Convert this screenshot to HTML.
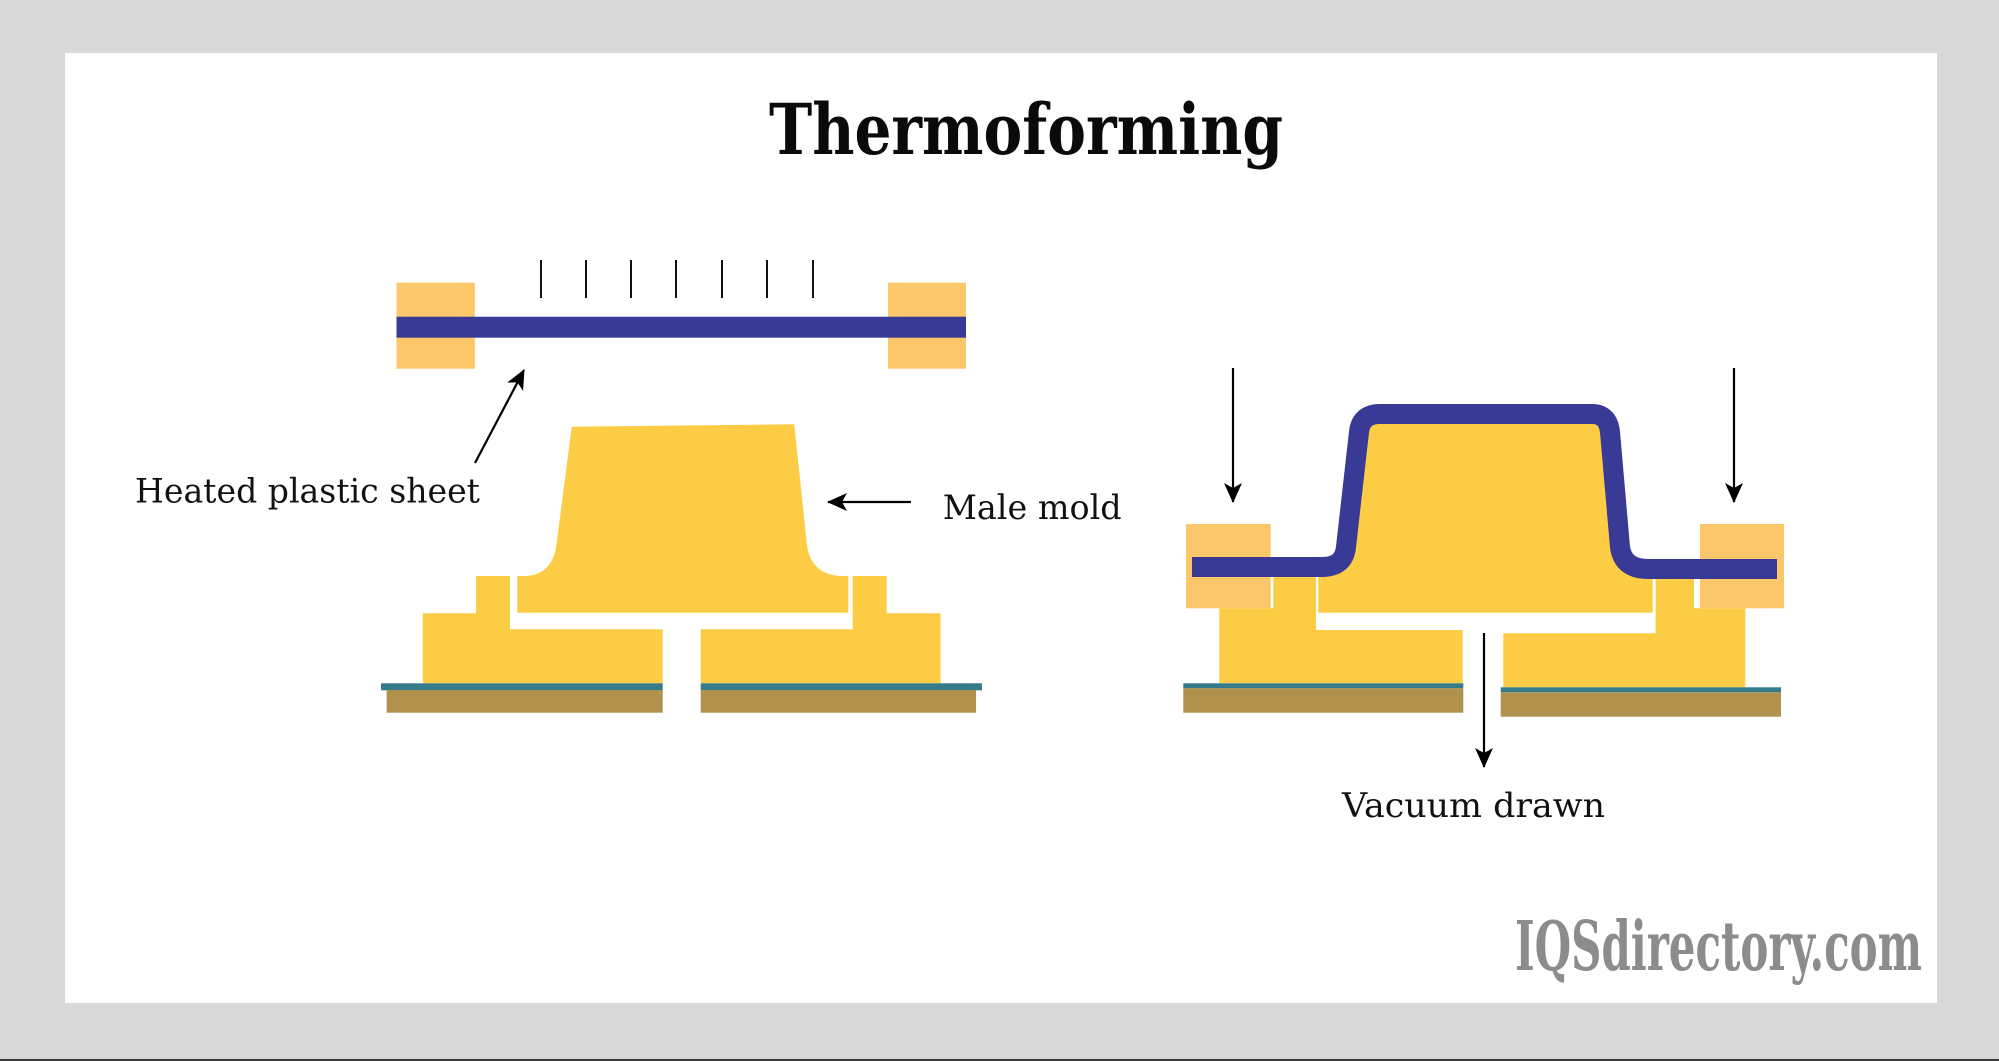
<!DOCTYPE html>
<html>
<head>
<meta charset="utf-8">
<style>
  html, body { margin: 0; padding: 0; background: #d9d9d9; }
  svg { display: block; }
</style>
</head>
<body>
<svg width="1999" height="1061" viewBox="0 0 1999 1061" xmlns="http://www.w3.org/2000/svg">
  <defs>
    <marker id="ah" viewBox="0 0 20 18" refX="19" refY="9" markerWidth="20" markerHeight="18" markerUnits="userSpaceOnUse" orient="auto">
      <path d="M0,0 L20,9 L0,18 L5,9 Z" fill="#000"/>
    </marker>
  </defs>
  <!-- background frame -->
  <rect x="0" y="0" width="1999" height="1061" fill="#d9d9d9"/>
  <rect x="65" y="53" width="1872" height="950" fill="#ffffff"/>
  <rect x="0" y="1059" width="1999" height="2" fill="#3a3a3a"/>

  <!-- Title -->
  <text x="769" y="154" font-family="DejaVu Serif, Liberation Serif, serif" font-weight="bold" font-size="70" textLength="514" lengthAdjust="spacingAndGlyphs" fill="#0a0a0a">Thermoforming</text>

  <!-- ============ LEFT DIAGRAM ============ -->
  <g stroke="#111" stroke-width="2">
    <line x1="541" y1="260" x2="541" y2="298"/>
    <line x1="586" y1="260" x2="586" y2="298"/>
    <line x1="631" y1="260" x2="631" y2="298"/>
    <line x1="676" y1="260" x2="676" y2="298"/>
    <line x1="722" y1="260" x2="722" y2="298"/>
    <line x1="767" y1="260" x2="767" y2="298"/>
    <line x1="813" y1="260" x2="813" y2="298"/>
  </g>
  <rect x="396.5" y="282.7" width="78.3" height="86" fill="#fcc76a"/>
  <rect x="888" y="282.7" width="78" height="86" fill="#fcc76a"/>
  <rect x="396.5" y="316.7" width="569.5" height="21" fill="#383a96"/>

  <line x1="475" y1="463" x2="524" y2="370" stroke="#000" stroke-width="2.2" marker-end="url(#ah)"/>
  <text x="135" y="502.7" font-family="DejaVu Serif, Liberation Serif, serif" font-size="34" textLength="345" lengthAdjust="spacingAndGlyphs" fill="#111">Heated plastic sheet</text>

  <path d="M571.7,426.7 L794.3,424.3 L806.7,543 Q810,574 840,576 L848.3,576 L848.3,612.7 L517.3,612.7 L517.3,576 L526.7,576 Q553,574 556.7,543 Z" fill="#fccd44"/>
  <path d="M476,576 L510,576 L510,629.3 L662.7,629.3 L662.7,683.3 L422.7,683.3 L422.7,613.3 L476,613.3 Z" fill="#fccd44"/>
  <path d="M852.7,576 L886.7,576 L886.7,613.3 L940.6,613.3 L940.6,683.3 L700.7,683.3 L700.7,629.3 L852.7,629.3 Z" fill="#fccd44"/>
  <rect x="381" y="683.3" width="281.7" height="7" fill="#367b8c"/>
  <rect x="386.6" y="690" width="276.1" height="22.7" fill="#b0924e"/>
  <rect x="700.7" y="683.3" width="281.3" height="7" fill="#367b8c"/>
  <rect x="700.7" y="690" width="275.3" height="22.7" fill="#b0924e"/>

  <line x1="911" y1="502" x2="828" y2="502" stroke="#000" stroke-width="2.2" marker-end="url(#ah)"/>
  <text x="942.7" y="519" font-family="DejaVu Serif, Liberation Serif, serif" font-size="34" textLength="179" lengthAdjust="spacingAndGlyphs" fill="#111">Male mold</text>

  <!-- ============ RIGHT DIAGRAM ============ -->
  <line x1="1233" y1="368" x2="1233" y2="502" stroke="#000" stroke-width="2.2" marker-end="url(#ah)"/>
  <line x1="1734" y1="368" x2="1734" y2="502" stroke="#000" stroke-width="2.2" marker-end="url(#ah)"/>

  <rect x="1186" y="524" width="84.7" height="84.3" fill="#fcc76a"/>
  <rect x="1700" y="524" width="84" height="84.3" fill="#fcc76a"/>

  <path d="M1273.3,576 L1316,576 L1316,630 L1462.7,630 L1462.7,683.3 L1219.3,683.3 L1219.3,608.3 L1273.3,608.3 Z" fill="#fccd44"/>
  <path d="M1655.6,578 L1694,578 L1694,608.3 L1745.3,608.3 L1745.3,687.3 L1503.3,687.3 L1503.3,633.3 L1655.6,633.3 Z" fill="#fccd44"/>
  <path d="M1340,575 L1354,440 Q1357,418 1378,418 L1594,418 Q1610,418 1612,440 L1626,575 Z" fill="#fccd44"/>
  <rect x="1318.3" y="570" width="334.4" height="42.7" fill="#fccd44"/>

  <path d="M1192,567 L1322,567 Q1344,567 1346,547 L1359,432 Q1361,414 1380,414 L1592,414 Q1608,414 1610,432 L1620,547 Q1623,569 1648,569 L1777,569" fill="none" stroke="#383a96" stroke-width="20" stroke-linejoin="round"/>

  <rect x="1183.3" y="683.3" width="280" height="5" fill="#367b8c"/>
  <rect x="1183.3" y="688.3" width="280" height="24.4" fill="#b0924e"/>
  <rect x="1500.7" y="687.3" width="280.3" height="5" fill="#367b8c"/>
  <rect x="1500.7" y="692.3" width="280.3" height="24.4" fill="#b0924e"/>

  <line x1="1484" y1="633" x2="1484" y2="767" stroke="#000" stroke-width="2.2" marker-end="url(#ah)"/>
  <text x="1342" y="817" font-family="DejaVu Serif, Liberation Serif, serif" font-size="34" textLength="263" lengthAdjust="spacingAndGlyphs" fill="#111">Vacuum drawn</text>

  <text x="1515" y="970" font-family="DejaVu Serif, Liberation Serif, serif" font-stretch="condensed" font-weight="bold" font-size="68" textLength="407" lengthAdjust="spacingAndGlyphs" fill="#8c8c8c">IQSdirectory.com</text>
</svg>
</body>
</html>
